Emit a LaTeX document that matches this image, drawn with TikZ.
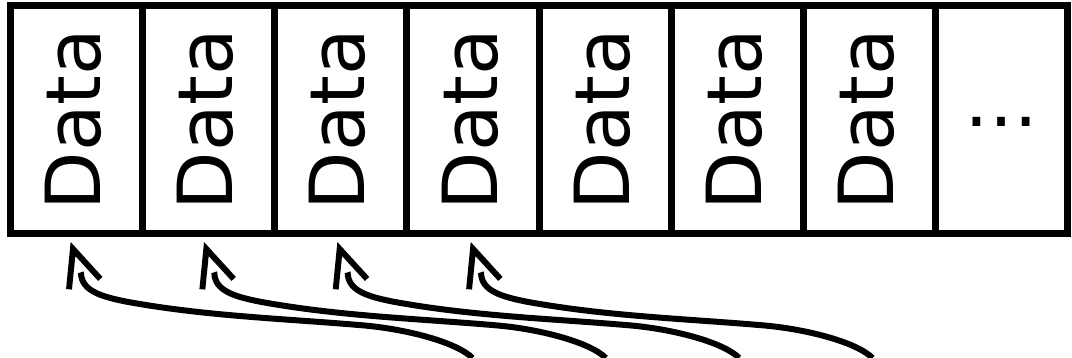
\documentclass[tikz,border=0pt]{standalone}
\usepackage{fontspec}
\setmainfont{DejaVu Sans}
\usetikzlibrary{calc,arrows.meta}
\pgfdeclarearrow{
  name = OpenV,
  setup code = {
    \pgfarrowssettipend{0pt}
    \pgfarrowssetlineend{-32pt}
    \pgfarrowssetbackend{-45.6pt}
    \pgfarrowssetvisualbackend{-45.6pt}
    \pgfarrowsupperhullpoint{-45.6pt}{19.2pt}
    \pgfarrowsupperhullpoint{0pt}{0pt}
  },
  drawing code = {
    \pgfpathmoveto{\pgfqpoint{0pt}{0pt}}
    \pgfpathlineto{\pgfqpoint{-43.2pt}{19.2pt}}
    \pgfpathlineto{\pgfqpoint{-45.6pt}{13.8pt}}
    \pgfpathlineto{\pgfqpoint{-14.8pt}{0pt}}
    \pgfpathlineto{\pgfqpoint{-45.6pt}{-13.8pt}}
    \pgfpathlineto{\pgfqpoint{-43.2pt}{-19.2pt}}
    \pgfpathclose
    \pgfusepathqfill
  },
}
\tikzset{
  cell/.style={draw, line width=7pt, minimum width=132.125pt, minimum height=227.5pt, inner sep=0pt, outer sep=0pt},
  datatext/.style={rotate=90, inner sep=0pt, font=\fontsize{76}{90}\selectfont},
  dotstext/.style={inner sep=0pt, font=\fontsize{74}{88}\selectfont},
  conn/.style={line width=6pt, line cap=butt, -OpenV},
}
\begin{document}
\begin{tikzpicture}[x=1pt,y=-1pt]
\useasboundingbox (0,0) rectangle (1072,358);
\foreach \i in {1,...,8} {
  \node[cell] (c\i) at ({10.5+132.125*(\i-0.5)},119.75) {};
}
\foreach \i in {1,...,7} {
  \node[datatext] (d\i) at ($(c\i.center)+(-3,0)$) {Data};
}
\node[dotstext] (e) at ($(c8.center)+(0,2.5)$) {…};
\foreach \i in {1,...,4} {
  \coordinate (v\i) at ($(c\i.south)+({-5.9+1.23*(\i-1)},8.5)$);
  \coordinate (s\i) at ($(v\i)+(401.8,116)$);
  \draw[conn] (s\i)
    .. controls ($(v\i)+(385.8,100)$) and ($(v\i)+(334.3,86.6)$) .. ($(v\i)+(289.3,83.1)$)
    .. controls ($(v\i)+(211.3,76.5)$) and ($(v\i)+(134,74)$) .. ($(v\i)+(56,59.7)$)
    .. controls ($(v\i)+(31,54.7)$) and ($(v\i)+(10.8,49)$) .. ($(v\i)+(10.3,31)$)
    -- (v\i);
}
\end{tikzpicture}
\end{document}
